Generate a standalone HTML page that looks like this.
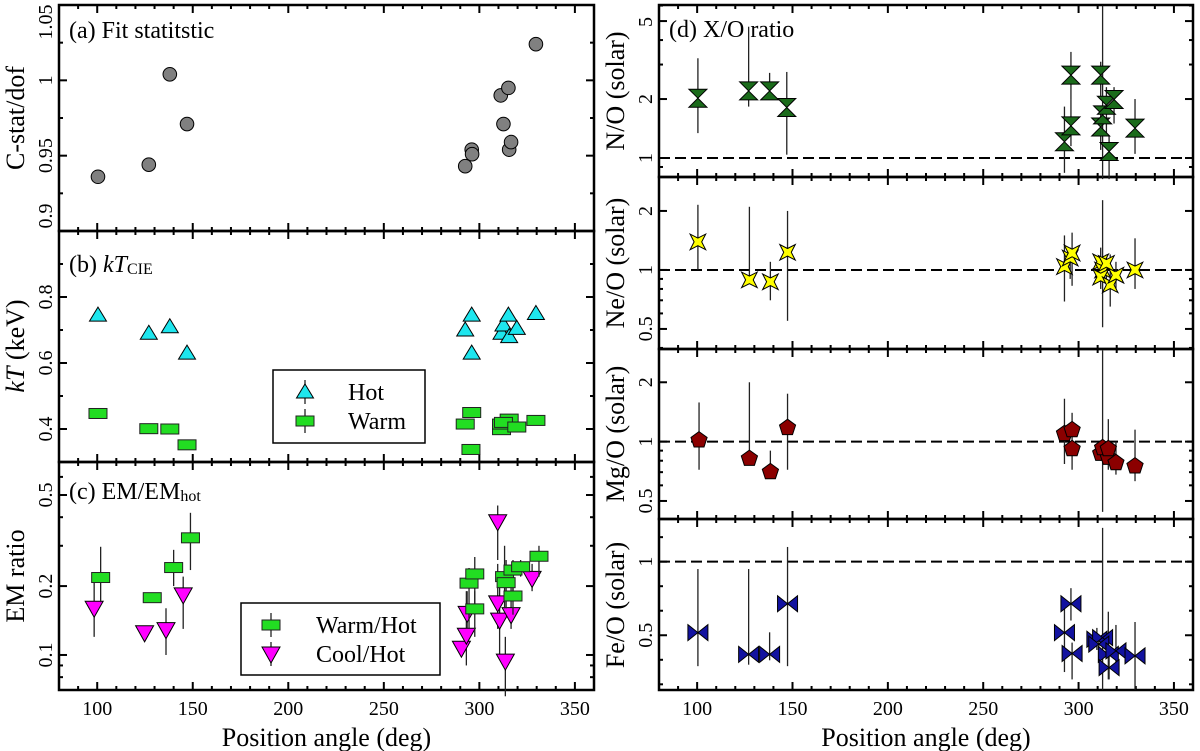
<!DOCTYPE html>
<html><head><meta charset="utf-8">
<style>
html,body{margin:0;padding:0;background:#fff;}
svg{display:block;font-family:"Liberation Serif",serif;}
</style></head>
<body>
<svg id="chart" width="1200" height="751" viewBox="0 0 1200 751" xmlns="http://www.w3.org/2000/svg"></svg>
<script>
// ---- data ----
const fitPA = [100.4,127,138,147,292.6,296,296.2,311.2,315.2,312.6,315.6,316.6,329.6];
const fitVal = [0.936,0.944,1.004,0.971,0.943,0.954,0.951,0.990,0.995,0.971,0.954,0.959,1.024];

const hotPA = [100.4,127,138,147,292.6,296,296,311.6,312.6,315.2,315.6,319.6,329.6];
const hotVal = [0.745,0.69,0.71,0.63,0.70,0.745,0.63,0.69,0.715,0.745,0.68,0.705,0.75];
const warmPA = [100.4,127,138,147,292.6,296,295.6,311.6,311.6,315.6,312.6,319.6,329.6];
const warmVal = [0.447,0.401,0.40,0.352,0.415,0.45,0.338,0.398,0.415,0.43,0.42,0.406,0.426];

const whPA = [101.8,128.8,140,148.8,294.6,297.6,297.6,313.2,314,317.6,317.6,321.6,331.2];
const whVal = [0.218,0.178,0.241,0.325,0.206,0.226,0.159,0.22,0.207,0.235,0.181,0.243,0.27];
const whLo = [0.17,0.172,0.2,0.235,0.13,0.15,0.12,0.16,0.16,0.19,0.15,0.22,0.22];
const whHi = [0.297,0.185,0.288,0.418,0.24,0.268,0.19,0.30,0.26,0.26,0.21,0.26,0.30];
const chPA = [98.4,124.8,136,145,290.6,293.2,293.6,309.6,309.6,310.6,313.6,316.6,327.6];
const chVal = [0.16,0.125,0.129,0.183,0.107,0.122,0.152,0.382,0.169,0.142,0.094,0.15,0.216];
const chLo = [0.12,0.125,0.10,0.13,0.107,0.09,0.11,0.26,0.13,0.10,0.066,0.13,0.19];
const chHi = [0.21,0.125,0.16,0.22,0.107,0.19,0.19,0.45,0.25,0.20,0.12,0.20,0.25];

const noPA = [100.4,127,138,147,292.6,296,296,311.6,311.6,312.6,314.6,318.6,316,329.6];
const noVal = [2.02,2.2,2.2,1.81,1.21,1.46,2.65,2.65,1.44,1.66,1.86,1.99,1.08,1.42];
const noLo = [1.34,1.83,1.98,1.04,0.84,1.15,2.0,2.0,1.1,0.78,1.3,1.5,0.78,1.05];
const noHi = [3.23,4.68,2.72,2.75,1.83,2.0,3.48,3.1,1.8,6.0,2.3,2.3,1.3,2.0];

const nePA = [100.4,127.4,138.4,147.4,292.6,295.6,296.6,311.6,312.6,311.6,316.6,319.6,329.6,314.6];
const neVal = [1.39,0.89,0.87,1.23,1.04,1.15,1.22,1.1,1.0,0.92,0.84,0.94,1.0,1.08];
const neLo = [1.0,0.89,0.70,0.55,0.69,0.9,0.83,0.9,0.51,0.8,0.65,0.8,0.8,0.9];
const neHi = [2.15,2.1,1.1,2.0,1.5,1.3,1.55,1.3,2.27,1.1,1.2,1.1,1.45,1.2];

const mgPA = [101,127.4,138.4,147.4,292.6,296.6,296.6,311.6,315.6,319.6,329.6,312.6,315.6];
const mgVal = [1.03,0.83,0.71,1.19,1.11,1.16,0.93,0.88,0.84,0.79,0.76,0.94,0.93];
const mgLo = [0.72,0.83,0.71,0.72,0.77,1.0,0.72,0.8,0.72,0.68,0.63,0.44,0.8];
const mgHi = [1.58,2.0,0.9,1.75,1.65,1.4,1.0,1.0,1.3,1.0,1.15,2.9,1.0];

const fePA = [100.4,127,138,147.4,292.6,296,296.6,309.6,312.6,310.6,315.6,316,319.6,329.6];
const feVal = [0.518,0.37,0.37,0.714,0.518,0.714,0.376,0.473,0.484,0.44,0.37,0.28,0.394,0.36];
const feLo = [0.29,0.3,0.33,0.29,0.25,0.6,0.2,0.4,0.13,0.38,0.2,0.2,0.3,0.13];
const feHi = [0.95,0.95,0.52,1.10,0.7,0.82,0.45,0.55,1.23,0.5,0.66,0.4,0.57,0.59];

const xTicks = [100,150,200,250,300,350];

// ---- helpers ----
const NS = "http://www.w3.org/2000/svg";
const svg = document.getElementById('chart');
function mk(tag, attrs, parent){ const e=document.createElementNS(NS,tag); for(const k in attrs) e.setAttribute(k,attrs[k]); (parent||svg).appendChild(e); return e; }

function panel(x0,x1,y0,y1,lo,hi,log){
  const X = v => x0 + (v-80)/(360-80)*(x1-x0);
  const Y = log ? (v => y1 - (Math.log10(v)-Math.log10(lo))/(Math.log10(hi)-Math.log10(lo))*(y1-y0))
                : (v => y1 - (v-lo)/(hi-lo)*(y1-y0));
  return {x0,x1,y0,y1,X,Y};
}
const P = {
  a: panel(59,594,5,231,0.9,1.05,false),
  b: panel(59,594,231,462,0.3,1.0,false),
  c: panel(59,594,462,690,0.0703,0.697,true),
  d: panel(659,1193,5,177,0.80,6.04,true),
  ne: panel(659,1193,177,349,0.395,2.98,true),
  mg: panel(659,1193,349,519,0.405,2.95,true),
  fe: panel(659,1193,519,690,0.128,1.29,false)
};

function axes(p, name, major, labels, minor, labelX){
  const g = mk('g',{});
  
  
  for(let v=80; v<=360; v+=10){
    const x=p.X(v); const len = (v%50===0)?8:4;
    mk('line',{x1:x,x2:x,y1:p.y1,y2:p.y1-len,stroke:'#000','stroke-width':2},g);
    mk('line',{x1:x,x2:x,y1:p.y0,y2:p.y0+len,stroke:'#000','stroke-width':2},g);
  }
  major.forEach((v,i)=>{
    const y=p.Y(v);
    mk('line',{x1:p.x0,x2:p.x0+8,y1:y,y2:y,stroke:'#000','stroke-width':2},g);
    mk('line',{x1:p.x1,x2:p.x1-8,y1:y,y2:y,stroke:'#000','stroke-width':2},g);
    let ly = y;
    if(ly - p.y0 < 17) ly = p.y0 + 17;
    if(p.y1 - ly < 15) ly = p.y1 - 15;
    const t = mk('text',{x:0,y:0,'font-size':20,'text-anchor':'middle',transform:`translate(${labelX+7},${ly}) rotate(-90)`},g);
    
    
    t.textContent = labels[i];
  });
  minor.forEach(v=>{
    const y=p.Y(v);
    mk('line',{x1:p.x0,x2:p.x0+4,y1:y,y2:y,stroke:'#000','stroke-width':2},g);
    mk('line',{x1:p.x1,x2:p.x1-4,y1:y,y2:y,stroke:'#000','stroke-width':2},g);
  });
  mk('rect',{x:p.x0,y:p.y0,width:p.x1-p.x0,height:p.y1-p.y0,fill:'none',stroke:'#000','stroke-width':2.5},g);
}

function marker(type, x, y, parent){
  const g = parent||svg;
  let e;
  if(type==='circle') e=mk('circle',{cx:x,cy:y,r:6.8,fill:'#808080',stroke:'#000','stroke-width':1},g);
  else if(type==='triUp') e=mk('polygon',{points:`${x},${y-8} ${x+8.5},${y+6} ${x-8.5},${y+6}`,fill:'#1ee6ee',stroke:'#000','stroke-width':1},g);
  else if(type==='box') e=mk('rect',{x:x-9,y:y-5,width:18,height:10,fill:'#22dd22',stroke:'#222','stroke-width':1},g);
  else if(type==='triDown') e=mk('polygon',{points:`${x-9},${y-7} ${x+9},${y-7} ${x},${y+9}`,fill:'#ff00ff',stroke:'#000','stroke-width':1},g);
  else if(type==='hourglass') e=mk('polygon',{points:`${x-9},${y-9} ${x+9},${y-9} ${x},${y} ${x+9},${y+9} ${x-9},${y+9} ${x},${y}`,fill:'#1b6b1b',stroke:'#000','stroke-width':1},g);
  else if(type==='star'){ let pts=[]; for(let i=0;i<8;i++){const a=Math.PI/4*i+Math.PI/4; const r=(i%2===0)?11:3.8; pts.push((x+r*Math.cos(a)).toFixed(1)+','+(y+r*Math.sin(a)).toFixed(1));} e=mk('polygon',{points:pts.join(' '),fill:'#ffff00',stroke:'#000','stroke-width':1},g); }
  else if(type==='pent'){ let pts=[]; for(let i=0;i<5;i++){const a=-Math.PI/2+i*2*Math.PI/5; pts.push((x+8.5*Math.cos(a)).toFixed(1)+','+(y+1+8.5*Math.sin(a)).toFixed(1));} e=mk('polygon',{points:pts.join(' '),fill:'#8b0000',stroke:'#000','stroke-width':1},g); }
  else if(type==='bowtie'){
    e=mk('g',{},g);
    mk('polygon',{points:`${x-10},${y-8} ${x},${y} ${x-10},${y+8}`,fill:'#1212a0',stroke:'#000','stroke-width':1},e);
    mk('polygon',{points:`${x+10},${y-8} ${x},${y} ${x+10},${y+8}`,fill:'#1212a0',stroke:'#000','stroke-width':1},e);
  }
  return e;
}

function series(p, name, type, pa, val, lo, hi){
  const g = mk('g',{});
  
  
  if(lo){
    pa.forEach((v,i)=>{
      const ln = mk('line',{x1:p.X(v),x2:p.X(v),y1:p.Y(lo[i]),y2:p.Y(hi[i]),stroke:'#222','stroke-width':1.3},g);
      
      
    });
  }
  pa.forEach((v,i)=>{
    const m = marker(type, p.X(v), p.Y(val[i]), g);
    
    
  });
}

function dashed(p, name){
  const l = mk('line',{x1:p.x0,x2:p.x1,y1:p.Y(1),y2:p.Y(1),stroke:'#000','stroke-width':2,'stroke-dasharray':'11,5'});
  
  
}

function text(str, x, y, size, name, extra){
  const t = mk('text',Object.assign({x:x,y:y,'font-size':size},extra||{}));
  
  
  t.textContent = str;
  return t;
}

// ---- axes ----
axes(P.a,'panel-a',[0.9,0.95,1,1.05],['0.9','0.95','1','1.05'],[0.925,0.975,1.025],45);
axes(P.b,'panel-b',[0.4,0.6,0.8],['0.4','0.6','0.8'],[0.5,0.7,0.9],45);
axes(P.c,'panel-c',[0.1,0.2,0.5],['0.1','0.2','0.5'],[0.08,0.09,0.3,0.4,0.6],45);
axes(P.d,'panel-d',[1,2,5],['1','2','5'],[0.9,3,4,6],645);
axes(P.ne,'panel-ne',[0.5,1,2],['0.5','1','2'],[0.4,0.6,0.7,0.8,0.9],645);
axes(P.mg,'panel-mg',[0.5,1,2],['0.5','1','2'],[0.6,0.7,0.8,0.9],645);
axes(P.fe,'panel-fe',[0.5,1],['0.5','1'],[1/6,1/3,2/3,5/6,7/6],645);

[P.c,P.fe].forEach(p=>{
  xTicks.forEach(v=>{ text(String(v), p.X(v), 715, 20, 'x-tick-label', {'text-anchor':'middle'}); });
  text('Position angle (deg)', (p.x0+p.x1)/2, 746, 26, 'x-axis-title', {'text-anchor':'middle'});
});

function ytitle(str, cx, cy, name){
  const t = mk('text',{x:0,y:0,'font-size':26,'text-anchor':'middle',transform:`translate(${cx},${cy}) rotate(-90)`});
  
  
  t.innerHTML = str;
}
ytitle('C-stat/dof', 24, 118, 'y-title-cstat');
ytitle('<tspan font-style="italic">kT</tspan> (keV)', 24, 346, 'y-title-kt');
ytitle('EM ratio', 24, 576, 'y-title-em');
ytitle('N/O (solar)', 624, 91, 'y-title-no');
ytitle('Ne/O (solar)', 624, 263, 'y-title-neo');
ytitle('Mg/O (solar)', 624, 434, 'y-title-mgo');
ytitle('Fe/O (solar)', 624, 605, 'y-title-feo');

dashed(P.d,'no'); dashed(P.ne,'neo'); dashed(P.mg,'mgo'); dashed(P.fe,'feo');

series(P.a,'fit-statistic','circle',fitPA,fitVal);
series(P.b,'hot-kt','triUp',hotPA,hotVal);
series(P.b,'warm-kt','box',warmPA,warmVal);
series(P.c,'cool-hot','triDown',chPA,chVal,chLo,chHi);
series(P.c,'warm-hot','box',whPA,whVal,whLo,whHi);
series(P.d,'n-o','hourglass',noPA,noVal,noLo,noHi);
series(P.ne,'ne-o','star',nePA,neVal,neLo,neHi);
series(P.mg,'mg-o','pent',mgPA,mgVal,mgLo,mgHi);
series(P.fe,'fe-o','bowtie',fePA,feVal,feLo,feHi);

text('(a) Fit statitstic', 69, 38, 24, 'panel-a-title');
const tb = text('', 69, 272, 24, 'panel-b-title'); tb.innerHTML='(b) <tspan font-style="italic">kT</tspan><tspan font-size="16" dy="2">CIE</tspan>';
const tc = text('', 69, 499, 24, 'panel-c-title'); tc.innerHTML='(c) EM/EM<tspan font-size="16" dy="2">hot</tspan>';
text('(d) X/O ratio', 669, 37, 24, 'panel-d-title');

function legend(x,y,w,h,entries,name){
  const g = mk('g',{});
  
  
  mk('rect',{x:x,y:y,width:w,height:h,fill:'#fff',stroke:'#000','stroke-width':1.5},g);
  entries.forEach(en=>{
    mk('line',{x1:en.mx,x2:en.mx,y1:en.my-12,y2:en.my+12,stroke:'#222','stroke-width':1.3},g);
    const m = marker(en.type,en.mx,en.my,g);
    
    
    const t = mk('text',{x:en.tx,y:en.my+8,'font-size':24},g);
    
    
    t.textContent = en.label;
  });
}
legend(273,370,152,73,[{type:'triUp',mx:305,my:392,tx:348,label:'Hot'},{type:'box',mx:305,my:421,tx:348,label:'Warm'}],'legend-kt');
legend(241,603,199,72,[{type:'box',mx:271,my:625,tx:316,label:'Warm/Hot'},{type:'triDown',mx:271,my:654,tx:316,label:'Cool/Hot'}],'legend-em');
</script>
</body></html>
